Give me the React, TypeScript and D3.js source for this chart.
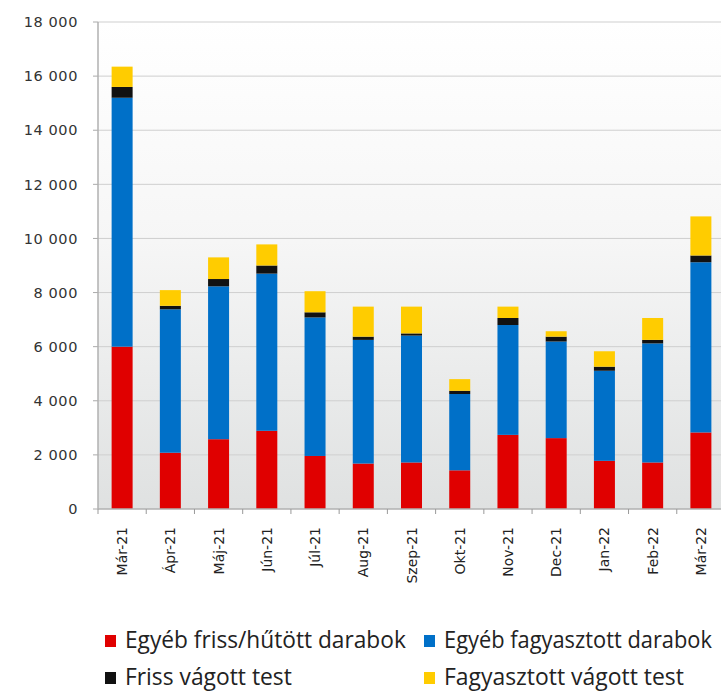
import React, { useLayoutEffect, useRef, useState } from "react";
import * as d3 from "d3";

const categories = ["Már-21", "Ápr-21", "Máj-21", "Jún-21", "Júl-21", "Aug-21", "Szep-21", "Okt-21", "Nov-21", "Dec-21", "Jan-22", "Feb-22", "Már-22"];
const frissDarabok = [6000, 2080, 2580, 2890, 1960, 1680, 1720, 1430, 2740, 2620, 1780, 1720, 2830];
const fagyDarabok = [9200, 5300, 5650, 5810, 5120, 4570, 4690, 2820, 4060, 3570, 3330, 4400, 6290];
const frissTest = [400, 130, 270, 300, 190, 120, 80, 120, 260, 180, 150, 130, 250];
const fagyTest = [750, 580, 800, 780, 780, 1110, 990, 430, 420, 200, 570, 810, 1445];
const yTicks = [0, 2000, 4000, 6000, 8000, 10000, 12000, 14000, 16000, 18000];

const seriesNames = ["Egyéb friss/hűtött darabok", "Egyéb fagyasztott darabok", "Friss vágott test", "Fagyasztott vágott test"];
const seriesColors = ["#E00000", "#0070C8", "#111111", "#FFCC00"];
const seriesData = [frissDarabok, fagyDarabok, frissTest, fagyTest];
const legendWidths = [281, 268, 167, 240];

const W = 721, H = 696;
const left = 98, right = 725, top = 22, bottom = 509;

export default function App() {
  const refs = useRef<(SVGTextElement | null)[]>([]);
  const [scales, setScales] = useState<number[]>([1, 1, 1, 1]);
  useLayoutEffect(() => {
    const s = refs.current.map((el, j) => {
      if (!el) return 1;
      const len = el.getComputedTextLength();
      return len > 0 ? legendWidths[j] / len : 1;
    });
    setScales(s);
  }, []);

  const x = d3.scaleBand<string>().domain(categories).range([left, right]);
  const y = d3.scaleLinear().domain([0, 18000]).range([bottom, top]);
  const rows = categories.map((c, i) => {
    const r: any = { cat: c };
    seriesNames.forEach((s, j) => (r[s] = seriesData[j][i]));
    return r;
  });
  const stacked = d3.stack<any>().keys(seriesNames)(rows);
  const barW = 21;
  const fmt = (v: number) => (v >= 1000 ? d3.format(",")(v).replace(",", " ") : String(v));

  return (
    <svg width={W} height={H} style={{ position: "absolute", left: 0, top: 0, background: "#fff" }}>
      <defs>
        <linearGradient id="bg" x1="0" y1="0" x2="0" y2="1">
          <stop offset="0" stopColor="#ffffff" />
          <stop offset="0.45" stopColor="#f6f6f6" />
          <stop offset="1" stopColor="#dfe1e1" />
        </linearGradient>
      </defs>
      <rect x={left} y={top} width={W - left} height={bottom - top} fill="url(#bg)" />
      {yTicks.map((t) => (
        <g key={t}>
          {t > 0 && <line x1={left} x2={W} y1={y(t)} y2={y(t)} stroke="#cfcfcf" strokeWidth={1} />}
          <line x1={left - 5} x2={left} y1={y(t)} y2={y(t)} stroke="#aaa" />
          <text x={78} y={y(t)} dy="0.36em" textAnchor="end" fontFamily="Verdana, 'DejaVu Sans', sans-serif" fontSize={14.5} fill="#333" letterSpacing={0.6}>
            {fmt(t)}
          </text>
        </g>
      ))}
      {stacked.map((s, j) => (
        <g key={s.key} fill={seriesColors[j]}>
          {s.map((d, i) => (
            <rect key={i} x={(x(categories[i]) as number) + x.bandwidth() / 2 - barW / 2} y={y(d[1])} width={barW} height={y(d[0]) - y(d[1])} />
          ))}
        </g>
      ))}
      <line x1={left} x2={left} y1={top} y2={bottom} stroke="#b0b0b0" strokeWidth={1.5} />
      <line x1={left} x2={W} y1={bottom} y2={bottom} stroke="#b0b0b0" strokeWidth={1.5} />
      {categories.map((c, i) => (
        <line key={"t" + i} x1={(x(c) as number)} x2={(x(c) as number)} y1={bottom} y2={bottom + 5} stroke="#999" />
      ))}
      {categories.map((c) => {
        const cx = (x(c) as number) + x.bandwidth() / 2;
        return (
          <text key={"l" + c} transform={`translate(${cx},527) rotate(-90)`} dy="0.36em" textAnchor="end" fontFamily="Verdana, 'DejaVu Sans', sans-serif" fontSize={14} fill="#222">
            {c}
          </text>
        );
      })}
      {seriesNames.map((s, j) => {
        const lx = j % 2 === 0 ? 105 : 424;
        const tx = j % 2 === 0 ? 125 : 444;
        const ly = j < 2 ? 648 : 685;
        return (
          <g key={"lg" + s}>
            <rect x={lx} y={ly - 13} width={11} height={12} fill={seriesColors[j]} />
            <text
              ref={(el) => { refs.current[j] = el; }}
              transform={`translate(${tx},${ly}) scale(${scales[j]},1)`}
              fontFamily="'Open Sans', 'Noto Sans', sans-serif"
              fontSize={24}
              fill="#222"
            >
              {s}
            </text>
          </g>
        );
      })}
    </svg>
  );
}
